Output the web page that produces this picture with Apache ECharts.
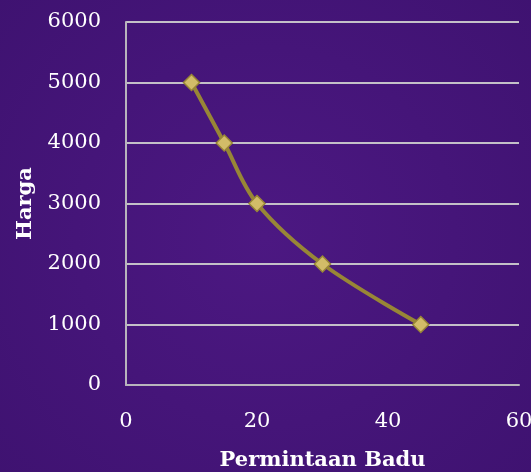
<!DOCTYPE html>
<html>
<head>
<meta charset="utf-8">
<script src="https://cdn.jsdelivr.net/npm/echarts@6/dist/echarts.min.js"></script>
<style>
  html, body { margin: 0; padding: 0; background: #42146f; }
  #main { width: 531px; height: 472px; }
</style>
</head>
<body>
<div id="main"></div>
<script>
  // data
  var permintaan = [10, 15, 20, 30, 45];
  var harga = [5000, 4000, 3000, 2000, 1000];
  var xTicks = [0, 20, 40, 60];
  var yTicks = [0, 1000, 2000, 3000, 4000, 5000, 6000];

  var points = [];
  for (var i = 0; i < permintaan.length; i++) {
    points.push([permintaan[i], harga[i]]);
  }

  var fontFam = '"DejaVu Serif", "Liberation Serif", serif';
  var chart = echarts.init(document.getElementById('main'));
  chart.setOption({
    backgroundColor: {
      type: 'radial', x: 0.5, y: 0.5, r: 0.8,
      colorStops: [{offset: 0, color: '#4c1882'}, {offset: 1, color: '#3e1270'}]
    },
    animation: false,
    grid: {left: 126, right: 12, top: 22, bottom: 87, outerBoundsMode: 'none', containLabel: false},
    xAxis: {
      type: 'value',
      min: xTicks[0],
      max: xTicks[xTicks.length - 1],
      interval: 20,
      name: 'Permintaan Badu',
      nameLocation: 'middle',
      nameGap: 65,
      nameTextStyle: {color: '#ffffff', fontFamily: fontFam, fontWeight: 'bold', fontSize: 21},
      axisLine: {show: true, lineStyle: {color: '#b8b4bc', width: 2}},
      axisTick: {show: false},
      splitLine: {show: false},
      axisLabel: {color: '#ffffff', fontFamily: fontFam, fontSize: 21, margin: 26,
        formatter: function (v) { return String(v); }}
    },
    yAxis: {
      type: 'value',
      min: yTicks[0],
      max: yTicks[yTicks.length - 1],
      interval: 1000,
      name: 'Harga',
      nameLocation: 'middle',
      nameGap: 90,
      nameTextStyle: {color: '#ffffff', fontFamily: fontFam, fontWeight: 'bold', fontSize: 21},
      axisLine: {show: true, lineStyle: {color: '#b8b4bc', width: 2}},
      axisTick: {show: false},
      splitLine: {show: true, lineStyle: {color: '#c4c0c8', width: 2}},
      axisLabel: {color: '#ffffff', fontFamily: fontFam, fontSize: 21, margin: 25,
        formatter: function (v) { return String(v); }}
    },
    series: [{
      type: 'line',
      data: points,
      smooth: 0.35,
      symbol: 'diamond',
      symbolSize: 16,
      lineStyle: {color: '#988636', width: 4},
      itemStyle: {color: '#d2bc68', borderColor: '#988636', borderWidth: 1.5}
    }]
  });
</script>
</body>
</html>
